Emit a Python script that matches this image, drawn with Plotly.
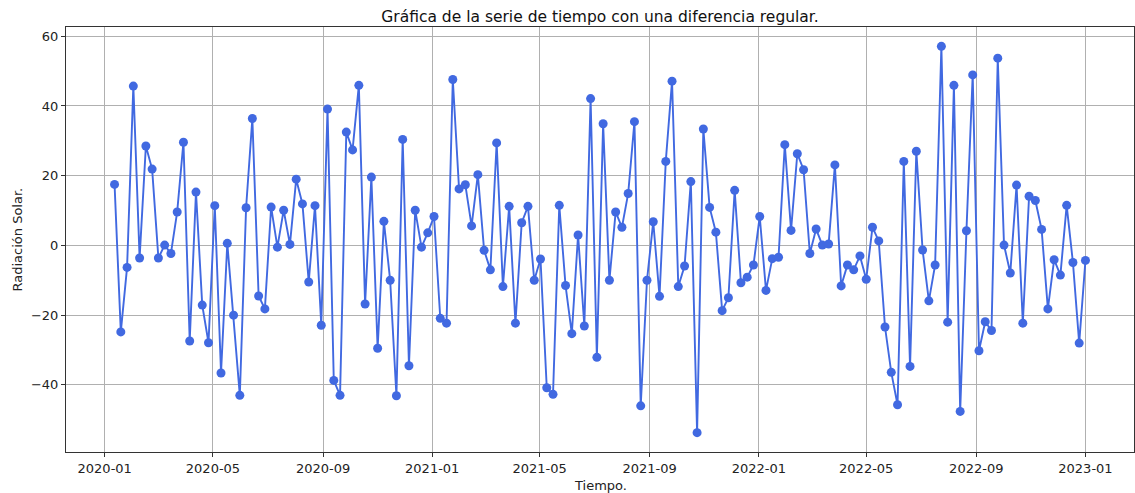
import pandas as pd
import plotly.graph_objects as go

# Weekly dates (Sunday) for the differenced series
fechas = pd.date_range("2020-01-12", "2023-01-01", freq="W-SUN")

# Radiación solar con una diferencia regular
valores = [
    17.5, -24.8, -6.3, 45.7, -3.6, 28.5, 21.9, -3.6, 0.1, -2.3,
    9.6, 29.6, -27.4, 15.3, -17.1, -27.9, 11.4, -36.6, 0.6, -20.0,
    -43.0, 10.8, 36.4, -14.5, -18.2, 11.0, -0.5, 10.1, 0.3, 19.0,
    11.9, -10.5, 11.4, -22.9, 39.1, -38.7, -43.0, 32.5, 27.4, 45.9,
    -16.8, 19.6, -29.5, 6.9, -10.0, -43.1, 30.4, -34.5, 10.1, -0.5,
    3.6, 8.3, -20.9, -22.3, 47.6, 16.2, 17.4, 5.6, 20.3, -1.4,
    -7.0, 29.4, -11.8, 11.2, -22.3, 6.5, 11.2, -10.0, -3.9, -40.8,
    -42.7, 11.5, -11.5, -25.3, 3.0, -23.1, 42.1, -32.1, 34.9, -10.0,
    9.6, 5.2, 14.9, 35.5, -46.0, -10.0, 6.8, -14.6, 24.1, 47.1,
    -11.8, -5.9, 18.3, -53.7, 33.4, 10.9, 3.8, -18.7, -15.0, 15.8,
    -10.7, -9.1, -5.6, 8.3, -12.9, -3.8, -3.4, 28.9, 4.3, 26.3,
    21.7, -2.3, 4.7, 0.1, 0.4, 23.1, -11.6, -5.6, -7.0, -3.0,
    -9.7, 5.2, 1.3, -23.4, -36.4, -45.7, 24.1, -34.7, 27.0, -1.3,
    -15.9, -5.6, 57.1, -22.0, 45.9, -47.6, 4.2, 48.9, -30.2, -21.9,
    -24.4, 53.7, 0.1, -7.9, 17.3, -22.3, 14.1, 12.9, 4.6, -18.2,
    -4.1, -8.5, 11.5, -4.9, -28.0, -4.3,
]

tick_fechas = pd.date_range("2020-01-01", "2023-01-01", freq="4MS")
tick_textos = [d.strftime("%Y-%m") for d in tick_fechas]
y_ticks = [-40, -20, 0, 20, 40, 60]

# 5 % padding on both axes
span_x = fechas[-1] - fechas[0]
x_range = [fechas[0] - 0.05 * span_x, fechas[-1] + 0.05 * span_x]
y_min, y_max = min(valores), max(valores)
span_y = y_max - y_min
y_range = [y_min - 0.05 * span_y, y_max + 0.05 * span_y]

FONT = "DejaVu Sans"
TICK_SIZE = 13

fig = go.Figure(
    go.Scatter(
        x=fechas,
        y=valores,
        mode="lines+markers",
        line=dict(color="#4169E1", width=1.9),
        marker=dict(color="#4169E1", size=9),
        showlegend=False,
    )
)

axis_common = dict(
    showgrid=True,
    gridcolor="#b0b0b0",
    gridwidth=0.8,
    showline=True,
    linecolor="#333333",
    linewidth=1,
    mirror=True,
    ticks="outside",
    ticklen=4,
    tickcolor="#333333",
    tickfont=dict(family=FONT, size=TICK_SIZE, color="#222222"),
    zeroline=False,
)

fig.update_xaxes(
    range=x_range,
    tickvals=tick_fechas,
    ticktext=tick_textos,
    **axis_common,
)
fig.update_yaxes(
    range=y_range,
    tickvals=y_ticks,
    **axis_common,
)

fig.update_layout(
    width=1135,
    height=493,
    margin=dict(l=66, r=1, t=27, b=41),
    paper_bgcolor="white",
    plot_bgcolor="white",
    font=dict(family=FONT, color="#222222"),
    title=dict(
        text="Gráfica de la serie de tiempo con una diferencia regular.",
        x=0.5,
        xref="paper",
        xanchor="center",
        y=1,
        yref="paper",
        yanchor="bottom",
        pad=dict(b=5),
        font=dict(family=FONT, size=15.5, color="#111111"),
    ),
    annotations=[
        dict(
            text="Tiempo.",
            x=0.5, xref="paper",
            y=0, yref="paper",
            yanchor="top",
            yshift=-24,
            showarrow=False,
            font=dict(family=FONT, size=TICK_SIZE, color="#222222"),
        ),
        dict(
            text="Radiación Solar.",
            x=0, xref="paper",
            y=0.5, yref="paper",
            xanchor="center",
            xshift=-49,
            textangle=-90,
            showarrow=False,
            font=dict(family=FONT, size=TICK_SIZE, color="#222222"),
        ),
    ],
)

fig.write_html("out.html")
